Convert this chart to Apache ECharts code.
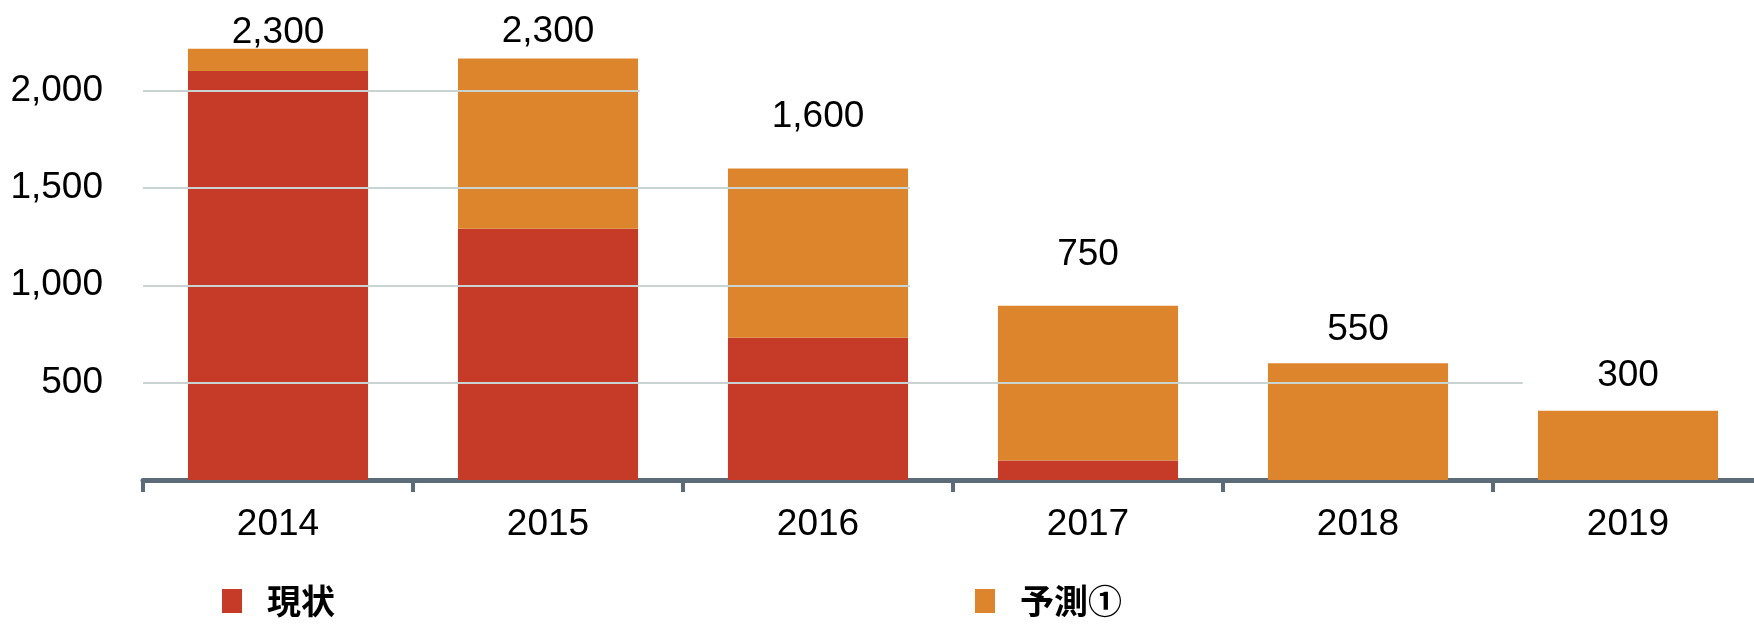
<!DOCTYPE html>
<html>
<head>
<meta charset="utf-8">
<script src="https://cdn.jsdelivr.net/npm/echarts@6/dist/echarts.min.js"></script>
<style>
  html, body { margin: 0; padding: 0; background: #fff; }
  #container { width: 1754px; height: 624px; }
</style>
</head>
<body>
<div id="container"></div>
<script>
const categories = ['2014', '2015', '2016', '2017', '2018', '2019'];
const actual = [2100, 1290, 730, 100, 0, 0];        // 現状
const forecast = [115, 875, 870, 795, 600, 355];     // 予測①
const topLabels = ['2,300', '2,300', '1,600', '750', '550', '300'];
const yTicks = [500, 1000, 1500, 2000];
// gridline value -> where it stops (in category units)
const gridEnds = [[500, 5.11], [1000, 2.84], [1500, 2.84], [2000, 1.84]];

// style only: gap between bar top and its label
const labelGaps = [-3, 8, 33, 32, 15, 17];

const RED = '#C63A28';
const ORANGE = '#DD852C';
const AXIS = '#5B6B77';
const FONT = "'Liberation Sans', Arial, sans-serif";

let myChart = echarts.init(document.getElementById('container'));
myChart.setOption({
  animation: false,
  textStyle: { fontFamily: FONT },
  // plot runs past the right edge, the last category is cut like in the source
  grid: { left: 143, width: 1620, top: 0, bottom: 144, outerBoundsMode: 'none', containLabel: false },
  legend: {
    data: ['現状', '予測①'],
    left: 222,
    top: 584,
    padding: 0,
    icon: 'rect',
    itemWidth: 20,
    itemHeight: 24,
    itemGap: 640,
    textStyle: {
      fontFamily: "'Noto Sans CJK JP', sans-serif",
      fontWeight: 'bold',
      fontSize: 34,
      color: '#000',
      padding: [0, 0, 0, 20]
    }
  },
  xAxis: [
    {
      type: 'category',
      data: categories,
      axisLine: { lineStyle: { color: AXIS, width: 5 } },
      axisTick: { show: true, length: 12, lineStyle: { color: AXIS, width: 4 } },
      axisLabel: { color: '#000', fontSize: 37, margin: 26, fontFamily: FONT }
    },
    {
      type: 'value',
      min: 0,
      max: 6,
      show: false
    }
  ],
  yAxis: {
    type: 'value',
    min: 0,
    max: 2465,
    interval: 500,
    axisLine: { show: false },
    axisTick: { show: false },
    splitLine: { show: false },
    axisLabel: {
      color: '#000',
      fontSize: 37,
      margin: 40,
      fontFamily: FONT,
      formatter: function (v) {
        return yTicks.indexOf(v) >= 0 ? v.toLocaleString('en-US') : '';
      }
    }
  },
  series: [
    {
      name: 'grid',
      type: 'line',
      xAxisIndex: 1,
      data: [],
      z: 1,
      silent: true,
      markLine: {
        silent: true,
        symbol: 'none',
        label: { show: false },
        lineStyle: { color: '#C8D3D2', width: 2, type: 'solid' },
        data: gridEnds.map(function (g) {
          return [{ coord: [0, g[0]] }, { coord: [g[1], g[0]] }];
        })
      }
    },
    {
      name: '現状',
      type: 'bar',
      stack: 'total',
      z: 3,
      barCategoryGap: '33.3%',
      itemStyle: { color: RED },
      data: actual
    },
    {
      name: '予測①',
      type: 'bar',
      stack: 'total',
      z: 3,
      barCategoryGap: '33.3%',
      itemStyle: { color: ORANGE },
      label: {
        show: true,
        position: 'top',
        color: '#000',
        fontSize: 37,
        fontFamily: FONT,
        formatter: function (p) { return topLabels[p.dataIndex]; }
      },
      data: forecast.map(function (v, i) {
        return { value: v, label: { distance: labelGaps[i] } };
      })
    }
  ]
});
</script>
</body>
</html>
